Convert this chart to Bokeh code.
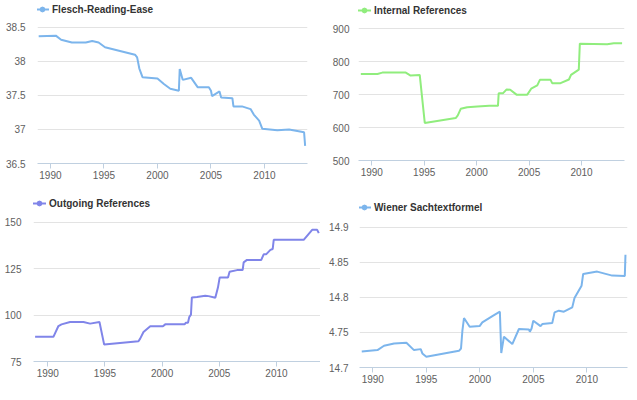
from bokeh.plotting import figure
from bokeh.models import Legend, LegendItem, FixedTicker, ColumnDataSource, Range1d
from bokeh.layouts import row, column
from bokeh.embed import file_html
from bokeh.resources import INLINE

# ---------------- data ----------------
years_ticks = [1990, 1995, 2000, 2005, 2010]

flesch_x = [1988.9, 1990.5, 1991.0, 1992.0, 1993.3, 1993.9, 1994.5, 1995.1, 1997.9, 1998.1,
            1998.3, 1998.6, 2000.0, 2000.6, 2001.2, 2002.0, 2002.08, 2002.36, 2003.15, 2003.77,
            2004.8, 2005.0, 2005.1, 2005.8, 2005.95, 2007.0, 2007.1, 2007.9, 2008.7, 2009.0,
            2009.5, 2009.8, 2011.2, 2012.3, 2013.7, 2013.8]
flesch_y = [38.37, 38.38, 38.32, 38.28, 38.28, 38.30, 38.28, 38.21, 38.10, 38.06,
            37.90, 37.77, 37.75, 37.67, 37.60, 37.57, 37.89, 37.73, 37.76, 37.62,
            37.62, 37.57, 37.49, 37.56, 37.47, 37.46, 37.34, 37.34, 37.30, 37.22,
            37.13, 37.01, 36.99, 37.00, 36.96, 36.76]

internal_x = [1988.95, 1990.54, 1991.0, 1993.24, 1993.7, 1994.57, 1995.05, 1998.0, 1998.2, 1998.48,
              1999.1, 2000.07, 2001.2, 2002.03, 2002.1, 2002.5, 2002.86, 2003.2, 2003.8, 2004.83,
              2005.2, 2005.78, 2006.03, 2007.05, 2007.2, 2008.0, 2008.8, 2009.0, 2009.74, 2009.84,
              2012.45, 2013.08, 2013.87]
internal_y = [763, 763, 767, 767, 758, 760, 614, 629, 637, 657,
              662, 664, 666, 666, 704, 704, 716, 715, 700, 700,
              718, 728, 745, 745, 735, 735, 746, 760, 776, 855,
              853, 856, 856]

outgoing_x = [1988.89, 1990.49, 1990.93, 1991.2, 1991.95, 1993.12, 1993.7, 1994.52, 1994.93, 1997.93,
              1998.08, 1998.37, 1998.96, 2000.07, 2000.27, 2001.96, 2002.08, 2002.26, 2002.37, 2002.52,
              2002.6, 2003.05, 2003.77, 2004.06, 2004.65, 2004.88, 2005.03, 2005.76, 2005.9, 2006.55,
              2007.04, 2007.13, 2007.42, 2008.67, 2008.88, 2009.09, 2009.47, 2009.67, 2009.76, 2012.38,
              2013.12, 2013.56, 2013.7]
outgoing_y = [88.3, 88.3, 94.1, 95.0, 96.3, 96.3, 95.4, 96.3, 84.1, 85.9,
              87.3, 90.9, 94.0, 94.0, 95.0, 95.0, 95.9, 95.9, 98.9, 100.2,
              109.5, 109.7, 110.4, 110.2, 109.3, 114.8, 120.2, 120.2, 123.3, 124.2,
              124.2, 128.4, 129.7, 129.7, 132.7, 132.7, 135.1, 135.6, 140.5, 140.5,
              145.9, 145.9, 144.1]

wiener_x = [1988.97, 1990.44, 1991.05, 1991.99, 1993.14, 1993.85, 1994.48, 1994.63, 1995.0, 1998.05,
            1998.24, 1998.37, 1998.52, 1999.05, 1999.98, 2000.23, 2001.17, 2001.87, 2002.0, 2002.25,
            2003.03, 2003.65, 2004.58, 2004.67, 2004.83, 2004.99, 2005.67, 2005.83, 2006.76, 2006.98,
            2007.38, 2007.85, 2008.63, 2008.84, 2009.5, 2009.65, 2010.96, 2012.36, 2013.54, 2013.6]
wiener_y = [14.7229, 14.7248, 14.7310, 14.7343, 14.7353, 14.7248, 14.7262, 14.7200, 14.7153, 14.7238,
            14.7271, 14.7524, 14.7705, 14.7581, 14.7590, 14.7643, 14.7733, 14.7796, 14.7206, 14.7439,
            14.7334, 14.7549, 14.7543, 14.7510, 14.7557, 14.7667, 14.7590, 14.7619, 14.7633, 14.7786,
            14.7810, 14.7796, 14.7857, 14.7990, 14.8167, 14.8334, 14.8367, 14.8310, 14.8306, 14.8606]

flesch_ticks = [36.5, 37, 37.5, 38, 38.5]
internal_ticks = [500, 600, 700, 800, 900]
outgoing_ticks = [75, 100, 125, 150]
wiener_ticks = [14.7, 14.75, 14.8, 14.85, 14.9]
wiener_overrides = {14.85: "4.85", 14.75: "4.75"}

FONT = "Liberation Sans"


def make_panel(title, xs, ys, color, width, height, xr, yr, yticks,
               left, right, bottom, standoff, leg_x, leg_top, overrides=None):
    p = figure(width=width, height=height, x_range=xr, y_range=yr,
               output_backend="svg", toolbar_location=None,
               min_border_left=left, min_border_right=right,
               min_border_top=0, min_border_bottom=bottom)
    p.frame_align = False
    p.outline_line_color = None
    p.background_fill_color = "white"
    p.border_fill_color = "white"

    src = ColumnDataSource(dict(x=xs, y=ys))
    ln = p.line("x", "y", source=src, line_color=color, line_width=2)
    # marker renderer used only for the legend symbol (mapped onto an off-screen range)
    p.extra_y_ranges = {"legend_only": Range1d(start=1e6, end=1e6 + 1)}
    mk = p.scatter("x", "y", source=src, y_range_name="legend_only",
                   marker="circle", size=8, fill_color=color, line_color=color)

    frame_h = height - bottom
    leg_h = 12
    legend = Legend(items=[LegendItem(label=title, renderers=[ln, mk])],
                    location=(leg_x, frame_h - leg_top - leg_h),
                    orientation="horizontal",
                    border_line_color=None, background_fill_alpha=0,
                    padding=0, margin=0, glyph_width=14, glyph_height=leg_h,
                    label_height=leg_h, label_standoff=3,
                    label_text_font=FONT, label_text_font_size="10px",
                    label_text_font_style="bold", label_text_color="#333333")
    p.add_layout(legend, "center")

    p.xaxis.ticker = FixedTicker(ticks=years_ticks)
    p.yaxis.ticker = FixedTicker(ticks=yticks)
    p.xgrid.grid_line_color = None
    p.ygrid.grid_line_color = "#e3e3e3"
    p.ygrid.grid_line_width = 1

    for ax in (p.xaxis[0], p.yaxis[0]):
        ax.major_label_text_font = FONT
        ax.major_label_text_font_size = "10px"
        ax.major_label_text_color = "#606060"
        ax.minor_tick_line_color = None
    p.xaxis.axis_line_color = "#C0D0E0"
    p.xaxis.major_tick_line_color = "#C0D0E0"
    p.xaxis.major_tick_out = 5
    p.xaxis.major_tick_in = 0
    p.xaxis.major_label_standoff = 2
    p.yaxis.axis_line_color = None
    p.yaxis.major_tick_line_color = None
    p.yaxis.major_tick_out = 0
    p.yaxis.major_tick_in = 0
    p.yaxis.major_label_standoff = standoff
    if overrides:
        p.yaxis.major_label_overrides = overrides
    return p


p1 = make_panel("Flesch-Reading-Ease", flesch_x, flesch_y, "#7cb5ec", 320, 195,
                (1988.79, 2014.02), (36.5, 38.897), flesch_ticks,
                37, 13, 32, 12, -2, 3)
p2 = make_panel("Internal References", internal_x, internal_y, "#90ed7d", 317, 195,
                (1988.73, 2014.1), (500, 986), internal_ticks,
                38, 13, 35, 9, -1, 4)
p3 = make_panel("Outgoing References", outgoing_x, outgoing_y, "#8085e9", 320, 205,
                (1988.75, 2013.85), (75, 164.38), outgoing_ticks,
                33, 0, 39, 12, -1, 2)
p4 = make_panel("Wiener Sachtextformel", wiener_x, wiener_y, "#7cb5ec", 317, 205,
                (1988.76, 2013.79), (14.7, 14.9452), wiener_ticks,
                39, 10, 33, 11, -2, 6, wiener_overrides)

layout = column(row(p1, p2), row(p3, p4))

open("out.html", "w").write(file_html(layout, INLINE))
